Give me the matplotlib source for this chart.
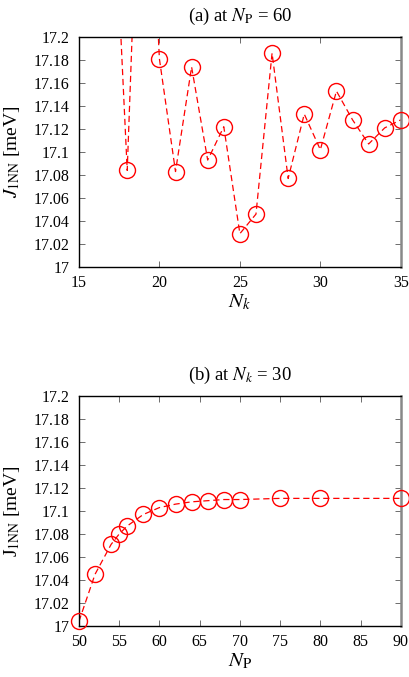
import numpy as np
import matplotlib
matplotlib.use('Agg')
import matplotlib.pyplot as plt

plt.rcParams['font.family'] = ['Liberation Serif', 'DejaVu Serif']
plt.rcParams['mathtext.fontset'] = 'stix'

# (a) J_1NN vs N_k at N_P = 60
nk = [17, 18, 19, 20, 21, 22, 23, 24, 25, 26, 27, 28, 29, 30, 31, 32, 33, 34, 35]
j_nk = [17.38, 17.084, 17.47, 17.181, 17.083, 17.174, 17.093, 17.122, 17.029, 17.046,
        17.186, 17.077, 17.133, 17.102, 17.153, 17.128, 17.107, 17.121, 17.128]

# (b) J_1NN vs N_P at N_k = 30
npw = [50, 52, 54, 55, 56, 58, 60, 62, 64, 66, 68, 70, 75, 80, 90]
j_np = [17.004, 17.045, 17.071, 17.080, 17.087, 17.097, 17.103, 17.106, 17.108,
        17.109, 17.110, 17.110, 17.111, 17.111, 17.111]

yticks = [17, 17.02, 17.04, 17.06, 17.08, 17.1, 17.12, 17.14, 17.16, 17.18, 17.2]
ytlabels = ['17', '17.02', '17.04', '17.06', '17.08', '17.1', '17.12', '17.14', '17.16', '17.18', '17.2']
ylo, yhi = 17, 17.2

fig = plt.figure(figsize=(4.09, 6.77), dpi=100)
ax1 = fig.add_axes([0.193, 0.6056, 0.787, 0.3397])
ax2 = fig.add_axes([0.193, 0.0753, 0.787, 0.3397])


def style(ax):
    ax.tick_params(direction='in', top=True, right=True, length=4, width=0.6,
                   color='#555555', labelsize=11.5)
    ax.tick_params(axis='x', pad=6)
    ax.tick_params(axis='y', pad=7)
    for s in ['left', 'bottom', 'top']:
        ax.spines[s].set_linewidth(1.0)
    ax.spines['right'].set_color('#888888')
    ax.spines['right'].set_linewidth(1.8)
    ax.set_yticks(yticks)
    ax.set_yticklabels(ytlabels)
    ax.set_ylim(ylo, yhi)


def draw(ax, x, y):
    x = np.asarray(x)
    y = np.asarray(y)
    ax.plot(x, y, 'r--', lw=0.9, dashes=(5, 3))
    inside = (y >= ylo) & (y <= yhi)
    ax.plot(x[inside], y[inside], ls='none', marker='o', ms=11.5, mfc='none',
            mec='red', mew=1.0, clip_on=False, zorder=5)


draw(ax1, nk, j_nk)
ax1.set_xlim(15, 35)
ax1.set_xticks([15, 20, 25, 30, 35])
style(ax1)
ax1.set_xlabel(r'$N_k$', fontsize=15, labelpad=1)
ax1.set_ylabel(r'$J_{\mathrm{1NN}}$ [meV]', fontsize=14, labelpad=8)
ax1.set_title(r'(a) at $N_{\mathrm{P}}$ = 60', fontsize=13.5, pad=11.5)

draw(ax2, npw, j_np)
ax2.set_xlim(50, 90)
ax2.set_xticks(range(50, 95, 5))
style(ax2)
ax2.set_xlabel(r'$N_{\mathrm{P}}$', fontsize=15, labelpad=1)
ax2.set_ylabel(r'J$_{\mathrm{1NN}}$ [meV]', fontsize=14, labelpad=8)
ax2.set_title(r'(b) at $N_k$ = 30', fontsize=13.5, pad=11.5)

fig.savefig('out.png', dpi=100)
